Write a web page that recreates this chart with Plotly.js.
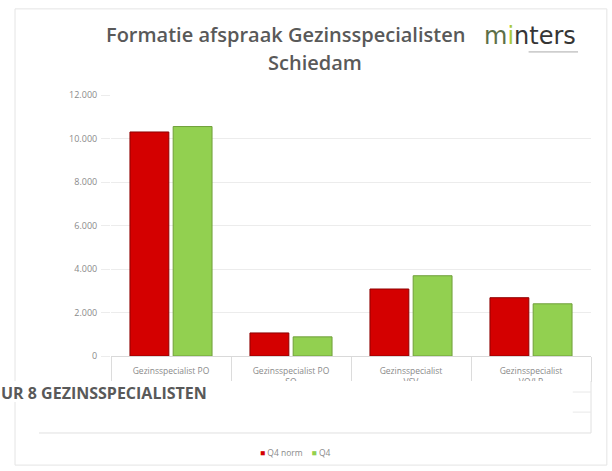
<!DOCTYPE html>
<html>
<head>
<meta charset="utf-8">
<script src="https://cdn.plot.ly/plotly-3.0.1.min.js"></script>
<style>html,body{margin:0;padding:0;background:#fff;}#chart{width:612px;height:471px;}</style>
</head>
<body>
<div id="chart"></div>
<script>
var categories = ["Gezinsspecialist PO", "Gezinsspecialist PO<br>SO", "Gezinsspecialist<br>VSV", "Gezinsspecialist<br>VO/LP"];
var seriesNames = ["Q4 norm", "Q4"];
var seriesColors = ["#d40000", "#92d050"];
var q4Norm = [10300, 1060, 3080, 2680];
var q4 = [10550, 880, 3690, 2400];
var yTicks = [0, 2000, 4000, 6000, 8000, 10000, 12000];
var titleLine1 = "Formatie afspraak Gezinsspecialisten";
var titleLine2 = "Schiedam";
var overlayText = "UR 8 GEZINSSPECIALISTEN";

var traces = [
  {type: "bar", name: seriesNames[0], x: categories, y: q4Norm,
   marker: {color: seriesColors[0], line: {color: "#8e0000", width: 1}}},
  {type: "bar", name: seriesNames[1], x: categories, y: q4,
   marker: {color: seriesColors[1], line: {color: "#6f9f3a", width: 1}}}
];

var legendText = seriesNames.map(function (n, i) {
  return "<span style='color:" + seriesColors[i] + "'>■</span> " + n;
}).join("    ");

var annotations = [
  {xref: "paper", yref: "paper", x: 0.3625, y: 1.23, xanchor: "center", yanchor: "middle",
   text: titleLine1, showarrow: false,
   font: {family: "Open Sans", size: 20, weight: 600, color: "#595959"}},
  {xref: "paper", yref: "paper", x: 0.425, y: 1.123, xanchor: "center", yanchor: "middle",
   text: titleLine2, showarrow: false,
   font: {family: "Open Sans", size: 20, weight: 600, color: "#595959"}},
  {xref: "paper", yref: "paper", x: 0.873, y: 1.225, xanchor: "center", yanchor: "middle",
   text: "<span style='color:#5d6f48'>m</span><span style='color:#a8c93a'>i</span><span style='color:#353535'>nters</span>",
   showarrow: false, font: {family: "DejaVu Sans", size: 24, color: "#353535"}},
  {xref: "paper", yref: "paper", x: -0.233, y: -0.142, xanchor: "left", yanchor: "middle",
   text: "<b>" + overlayText + "</b>", showarrow: false,
   font: {family: "Open Sans", size: 16, color: "#595959"}},
  {xref: "paper", yref: "paper", x: 0.383, y: -0.368, xanchor: "center", yanchor: "middle",
   text: legendText, showarrow: false, font: {family: "Open Sans", size: 8.5, color: "#8a8a8a"}}
];

var layout = {
  width: 612, height: 471,
  margin: {l: 111, r: 21, t: 95, b: 115},
  paper_bgcolor: "#ffffff", plot_bgcolor: "#ffffff",
  separators: ",.",
  showlegend: false,
  bargap: 0.28, bargroupgap: 0.1,
  font: {family: "Open Sans", size: 9, color: "#8a8a8a"},
  xaxis: {
    type: "category", tickson: "boundaries", ticks: "outside", ticklen: 25,
    tickcolor: "#dcdcdc", showline: true, linecolor: "#d9d9d9", linewidth: 1,
    ticklabelstandoff: 7,
    tickfont: {size: 8.5, color: "#8a8a8a"}, showgrid: false, fixedrange: true
  },
  yaxis: {
    range: [0, 12000], tickvals: yTicks, tickformat: ",d",
    showgrid: true, gridcolor: "#ececec", ticks: "outside", ticklen: 9,
    tickcolor: "#ececec", ticklabelstandoff: 2, zeroline: false, showline: false,
    tickfont: {size: 9, color: "#8a8a8a"}, fixedrange: true
  },
  annotations: annotations,
  shapes: [
    {type: "rect", xref: "paper", yref: "paper", x0: -0.2, x1: 1.033, y0: 1.33, y1: -0.418,
     line: {color: "#e4e4e4", width: 1}, fillcolor: "rgba(0,0,0,0)", layer: "below"},
    {type: "line", xref: "paper", yref: "paper", x0: 0.87, x1: 0.973, y0: 1.165, y1: 1.165,
     line: {color: "#aaaaaa", width: 1}},
    {type: "rect", xref: "paper", yref: "paper", x0: -0.5, x1: 1.0, y0: -0.096, y1: -0.176,
     line: {width: 0}, fillcolor: "#ffffff", layer: "above"},
    {type: "line", xref: "paper", yref: "paper", x0: -0.15, x1: 1.0, y0: -0.295, y1: -0.295,
     line: {color: "#e0e0e0", width: 1}},
    {type: "line", xref: "paper", yref: "paper", x0: 1.0, x1: 1.0, y0: -0.096, y1: -0.295,
     line: {color: "#e0e0e0", width: 1}},
    {type: "line", xref: "paper", yref: "paper", x0: 0.962, x1: 1.0, y0: -0.138, y1: -0.138,
     line: {color: "#e8e8e8", width: 1}},
    {type: "line", xref: "paper", yref: "paper", x0: 0.962, x1: 1.0, y0: -0.215, y1: -0.215,
     line: {color: "#e8e8e8", width: 1}}
  ]
};

Plotly.newPlot("chart", traces, layout, {displayModeBar: false, staticPlot: true});
</script>
</body>
</html>
